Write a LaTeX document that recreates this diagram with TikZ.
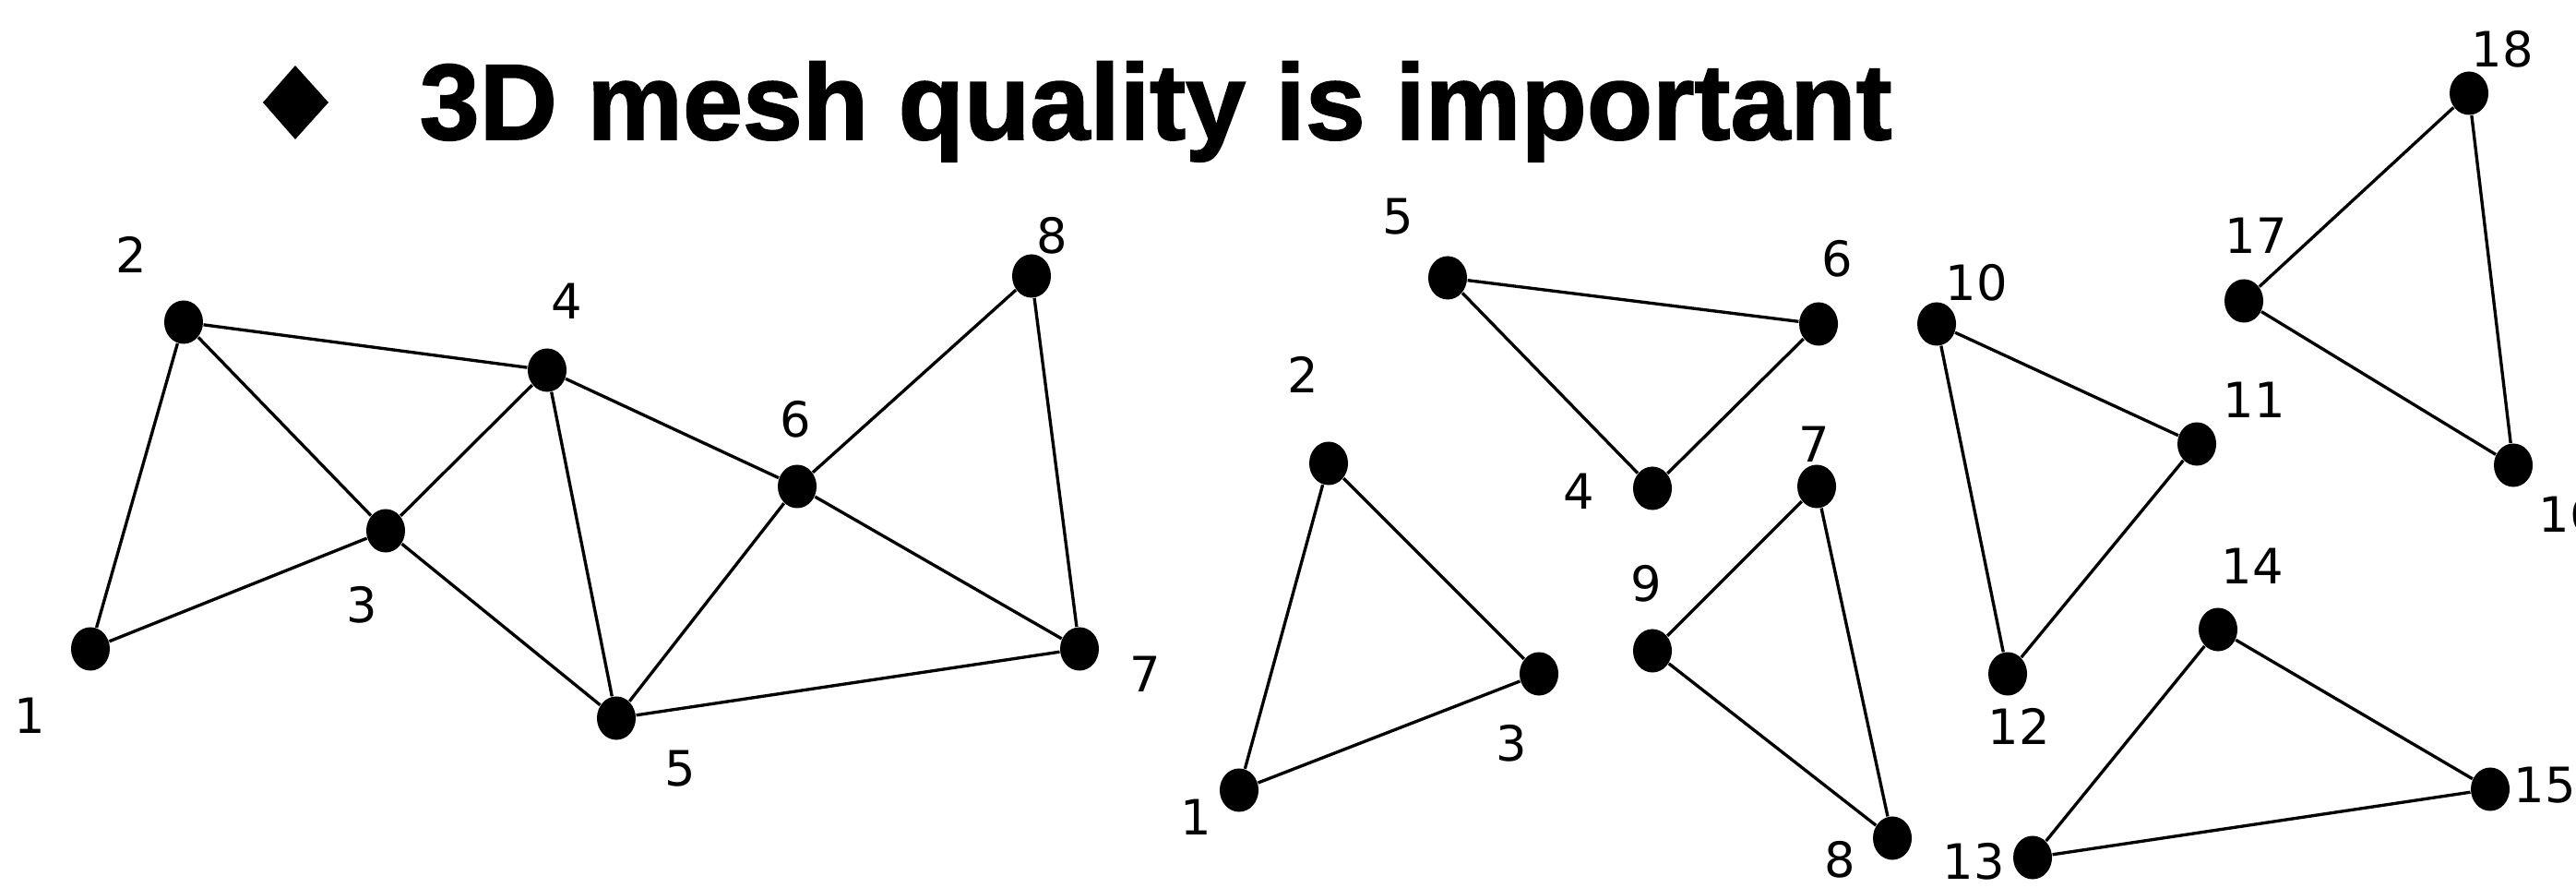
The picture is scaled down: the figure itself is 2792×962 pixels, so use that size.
\documentclass[tikz,border=0pt]{standalone}
\usepackage{fontspec}
\setmainfont{DejaVu Sans}
\newfontfamily\titlefont[BoldFeatures={FakeBold=1.5}]{Liberation Sans}
\usetikzlibrary{shapes.geometric}
\begin{document}
\begin{tikzpicture}[x=0.01cm,y=-0.01cm,
  vtx/.style={ellipse, fill=black, inner sep=0, minimum width=0.42cm, minimum height=0.47cm},
  lbl/.style={inner sep=0, font=\fontsize{15}{18}\selectfont},
  edge/.style={line width=0.95pt}]
\clip (0,0) rectangle (2792,962);
\fill[white] (0,0) rectangle (2792,962);
% title
\fill[black] (320,71) -- (356,111) -- (320,151) -- (285,111) -- cycle;
\node[anchor=base west, inner sep=0, font=\titlefont\bfseries\fontsize{33.2}{36}\selectfont] (title) at (454,151) {3D mesh quality is important};
% left mesh
\node[vtx] (a1) at (98,703) {};
\node[vtx] (a2) at (199,349) {};
\node[vtx] (a3) at (418,575) {};
\node[vtx] (a4) at (593,401) {};
\node[vtx] (a5) at (668,778) {};
\node[vtx] (a6) at (864,527) {};
\node[vtx] (a7) at (1170,703) {};
\node[vtx] (a8) at (1118,299) {};
\draw[edge] (a1)--(a2) (a1)--(a3) (a2)--(a3) (a2)--(a4) (a3)--(a4) (a3)--(a5)
  (a4)--(a5) (a4)--(a6) (a5)--(a6) (a5)--(a7) (a6)--(a7) (a6)--(a8) (a8)--(a7);
\node[lbl] (la1) at (32,775) {1};
\node[lbl] (la2) at (142,276) {2};
\node[lbl] (la3) at (392,655) {3};
\node[lbl] (la4) at (614,326) {4};
\node[lbl] (la5) at (737,833) {5};
\node[lbl] (la6) at (862,454) {6};
\node[lbl] (la7) at (1241,730) {7};
\node[lbl] (la8) at (1140,255) {8};
% separated triangles
\node[vtx] (b1) at (1343,856) {};
\node[vtx] (b2) at (1440,502) {};
\node[vtx] (b3) at (1668,730) {};
\node[vtx] (b5) at (1569,301) {};
\node[vtx] (b6) at (1971,351) {};
\node[vtx] (b4) at (1791,529) {};
\node[vtx] (b7) at (1969,527) {};
\node[vtx] (b9) at (1791,705) {};
\node[vtx] (b8) at (2051,908) {};
\node[vtx] (b10) at (2099,351) {};
\node[vtx] (b11) at (2381,481) {};
\node[vtx] (b12) at (2176,730) {};
\node[vtx] (b13) at (2203,929) {};
\node[vtx] (b14) at (2404,682) {};
\node[vtx] (b15) at (2699,855) {};
\node[vtx] (b17) at (2432,326) {};
\node[vtx] (b18) at (2676,101) {};
\node[vtx] (b16) at (2724,504) {};
\draw[edge] (b1)--(b2)--(b3)--(b1);
\draw[edge] (b5)--(b6)--(b4)--(b5);
\draw[edge] (b7)--(b9)--(b8)--(b7);
\draw[edge] (b10)--(b11)--(b12)--(b10);
\draw[edge] (b13)--(b14)--(b15)--(b13);
\draw[edge] (b17)--(b18)--(b16)--(b17);
\node[lbl] (lb1) at (1296,885) {1};
\node[lbl] (lb2) at (1412,406) {2};
\node[lbl] (lb3) at (1638,805) {3};
\node[lbl] (lb5) at (1515,235) {5};
\node[lbl] (lb6) at (1991,280) {6};
\node[lbl] (lb4) at (1711,532) {4};
\node[lbl] (lb7) at (1966,481) {7};
\node[lbl] (lb9) at (1784,632) {9};
\node[lbl] (lb8) at (1994,931) {8};
\node[lbl] (lb10) at (2142,306) {10};
\node[lbl] (lb11) at (2443,433) {11};
\node[lbl] (lb12) at (2188,787) {12};
\node[lbl] (lb13) at (2139,933) {13};
\node[lbl] (lb14) at (2441,613) {14};
\node[lbl] (lb15) at (2758,851) {15};
\node[lbl] (lb17) at (2445,255) {17};
\node[lbl] (lb18) at (2712,53) {18};
\node[lbl, anchor=west] (lb16) at (2751,557) {16};
\end{tikzpicture}
\end{document}
